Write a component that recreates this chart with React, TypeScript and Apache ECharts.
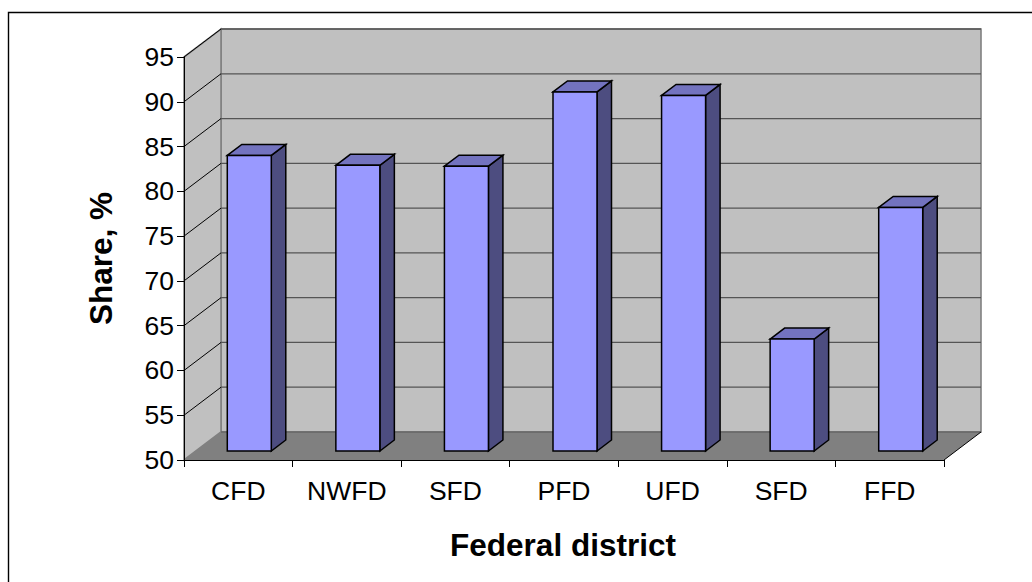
import React, { useEffect, useRef } from "react";
import * as echarts from "echarts";

const categories = ["CFD", "NWFD", "SFD", "PFD", "UFD", "SFD", "FFD"];
const shares = [83.0, 81.9, 81.8, 90.1, 89.7, 62.5, 77.2];
const yTicks = [50, 55, 60, 65, 70, 75, 80, 85, 90, 95];

const FONT = "'Liberation Sans', Arial, sans-serif";
const DX = 37;
const DY = 28;
const BAR_W = 44;
const BAR_DX = 14.5;
const BAR_DY = 11;
const OFF_X = 11;
const OFF_Y = 9;

export default function App() {
  const ref = useRef<HTMLDivElement>(null);
  useEffect(() => {
    const chart = echarts.init(ref.current!, null, { renderer: "svg" });

    const wallsRender = (_p: any, api: any) => {
      const lo = api.coord([0, 50]);
      const hi = api.coord([0, 95]);
      const x0 = lo[0] - api.size([1, 0])[0] / 2;
      const x1 = x0 + api.size([1, 0])[0] * categories.length;
      const yb = lo[1];
      const yt = hi[1];
      const wall = { fill: "#c0c0c0", stroke: "#808080", lineWidth: 1.6 };
      return {
        type: "group",
        children: [
          { type: "polygon", shape: { points: [[x0 + DX, yt - DY], [x1 + DX, yt - DY], [x1 + DX, yb - DY], [x0 + DX, yb - DY]] }, style: wall },
          { type: "polygon", shape: { points: [[x0, yt], [x0 + DX, yt - DY], [x0 + DX, yb - DY], [x0, yb]] }, style: wall },
          { type: "polygon", shape: { points: [[x0, yb], [x0 + DX, yb - DY], [x1 + DX, yb - DY], [x1, yb]] }, style: { fill: "#808080", stroke: "none" } },
          { type: "line", shape: { x1: x0 + DX, y1: yb - DY, x2: x1 + DX, y2: yb - DY }, style: { stroke: "#666666", lineWidth: 1.4 } },
          { type: "line", shape: { x1: x1, y1: yb, x2: x1 + DX, y2: yb - DY }, style: { stroke: "#000000", lineWidth: 1 } },
        ],
      };
    };

    const gridRender = (_p: any, api: any) => {
      const c = api.coord([0, api.value(1)]);
      const w = api.size([1, 0])[0];
      const x0 = c[0] - w / 2;
      const x1 = x0 + w * categories.length;
      const y = c[1];
      return {
        type: "group",
        children: [
          { type: "line", shape: { x1: x0, y1: y, x2: x0 + DX, y2: y - DY }, style: { stroke: "#000000", lineWidth: 1 } },
          { type: "line", shape: { x1: x0 + DX, y1: y - DY, x2: x1 + DX, y2: y - DY }, style: { stroke: "#555555", lineWidth: 1.3 } },
        ],
      };
    };

    const barRender = (_p: any, api: any) => {
      const top = api.coord([api.value(0), api.value(1)]);
      const base = api.coord([api.value(0), 50]);
      const xa = top[0] + OFF_X - BAR_W / 2;
      const xb = xa + BAR_W;
      const yt = top[1] - OFF_Y;
      const yb = base[1] - OFF_Y;
      const edge = { stroke: "#000000", lineWidth: 1.5, lineJoin: "miter" };
      return {
        type: "group",
        children: [
          { type: "polygon", shape: { points: [[xb, yt], [xb + BAR_DX, yt - BAR_DY], [xb + BAR_DX, yb - BAR_DY], [xb, yb]] }, style: { fill: "#4d4d80", ...edge } },
          { type: "polygon", shape: { points: [[xa, yt], [xa + BAR_DX, yt - BAR_DY], [xb + BAR_DX, yt - BAR_DY], [xb, yt]] }, style: { fill: "#7373bf", ...edge } },
          { type: "rect", shape: { x: xa, y: yt, width: BAR_W, height: yb - yt }, style: { fill: "#9999ff", ...edge } },
        ],
      };
    };

    chart.setOption({
      animation: false,
      backgroundColor: "#ffffff",
      grid: { left: 184, width: 760, top: 57, height: 403, containLabel: false },
      graphic: [
        {
          type: "polyline",
          shape: { points: [[8.5, 582], [8.5, 12.5], [1032, 12.5]] },
          style: { fill: "none", stroke: "#000000", lineWidth: 1.4 },
          silent: true,
        },
      ],
      xAxis: {
        type: "category",
        data: categories,
        z: 6,
        axisLine: { lineStyle: { color: "#000000", width: 1 } },
        axisTick: { show: true, length: 7, alignWithLabel: false, lineStyle: { color: "#000000" } },
        axisLabel: { color: "#000000", fontFamily: FONT, fontSize: 26.5, margin: 17, interval: 0 },
        name: "Federal district",
        nameLocation: "middle",
        nameGap: 69,
        nameTextStyle: { color: "#000000", fontFamily: FONT, fontSize: 31.5, fontWeight: "bold", padding: [0, 2, 0, 0] },
      },
      yAxis: {
        type: "value",
        min: 50,
        max: 95,
        interval: 5,
        z: 6,
        splitLine: { show: false },
        axisLine: { show: true, lineStyle: { color: "#000000", width: 1 } },
        axisTick: { show: true, length: 7, lineStyle: { color: "#000000" } },
        axisLabel: { color: "#000000", fontFamily: FONT, fontSize: 26.5, margin: 10 },
        name: "Share, %",
        nameLocation: "middle",
        nameGap: 67,
        nameRotate: 90,
        nameTextStyle: { color: "#000000", fontFamily: FONT, fontSize: 31.5, fontWeight: "bold" },
      },
      series: [
        { type: "custom", name: "walls", z: 1, data: [[0, 50]], renderItem: wallsRender, silent: true },
        { type: "custom", name: "gridlines", z: 2, data: yTicks.slice(1).map((t) => [0, t]), renderItem: gridRender, silent: true },
        { type: "custom", name: "Share", z: 3, data: shares.map((v, i) => [i, v]), encode: { x: 0, y: 1 }, renderItem: barRender },
      ],
    });
    return () => chart.dispose();
  }, []);
  return <div ref={ref} style={{ position: "fixed", left: 0, top: 0, width: 1032, height: 582 }} />;
}
